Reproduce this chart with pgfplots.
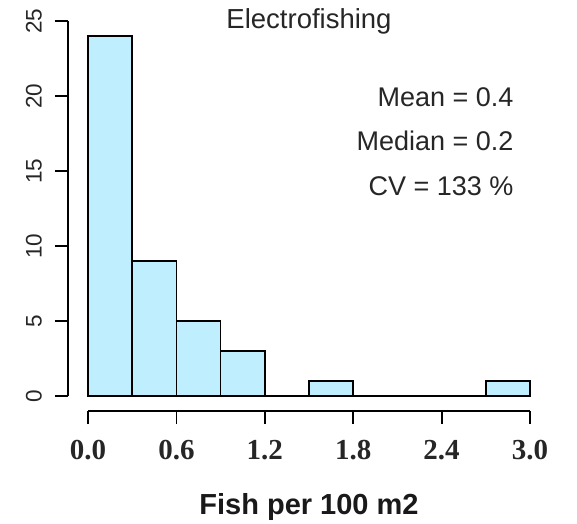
\documentclass[border=0pt]{standalone}
\usepackage{fontspec}
\setmainfont{Liberation Sans}
\newfontfamily\tickserif{Liberation Serif}
\usepackage{pgfplots}
\pgfplotsset{compat=1.18}
\definecolor{barfill}{RGB}{191,239,255}

\begin{document}
\begin{tikzpicture}
% page frame: 577 x 523
\path[use as bounding box] (-88pt,-127pt) rectangle (489pt,396pt);
\begin{axis}[
  at={(0pt,0pt)}, anchor=south west,
  scale only axis, width=442pt, height=375pt,
  xmin=0, xmax=3, ymin=0, ymax=25,
  clip=false,
  axis lines*=left,
  axis x line shift=15pt,
  axis y line shift=20pt,
  axis line style={line width=1.8pt, -},
  xtick={0,0.6,1.2,1.8,2.4,3.0},
  xticklabels={0.0,0.6,1.2,1.8,2.4,3.0},
  ytick={0,5,10,15,20,25},
  yticklabels={0,5,10,15,20,25},
  /pgf/number format/assume math mode=true,
  tick align=outside,
  major tick length=13pt,
  tick style={line width=1.8pt, black},
  xticklabel shift=13pt,
  yticklabel shift=9.5pt,
  xticklabel style={font=\tickserif\bfseries\fontsize{29}{30}\selectfont, text=black!85},
  yticklabel style={rotate=90, anchor=south, font=\fontsize{22.5}{24}\selectfont, text=black!85},
  title={Electrofishing},
  title style={at={(0.5,0.9635)}, anchor=base, font=\fontsize{27.5}{30}\selectfont, text=black!85},
  xlabel={Fish per 100 m2},
  xlabel style={at={(0.5,-0.3147)}, anchor=base, font=\bfseries\fontsize{29}{32}\selectfont, text=black!90},
]
\addplot[ybar interval, fill=barfill, draw=black, line width=1.7pt]
  coordinates {
    (0.0,24) (0.3,9) (0.6,5) (0.9,3) (1.2,0) (1.5,1)
    (1.8,0) (2.1,0) (2.4,0) (2.7,1) (3.0,1)
  };
\node[anchor=base east, font=\fontsize{27}{30}\selectfont, text=black!85] at (axis cs:2.912,19.29) {Mean = 0.4};
\node[anchor=base east, font=\fontsize{27}{30}\selectfont, text=black!85] at (axis cs:2.912,16.4) {Median = 0.2};
\node[anchor=base east, font=\fontsize{27}{30}\selectfont, text=black!85] at (axis cs:2.912,13.4) {CV = 133 \%};
\end{axis}
\end{tikzpicture}
\end{document}
